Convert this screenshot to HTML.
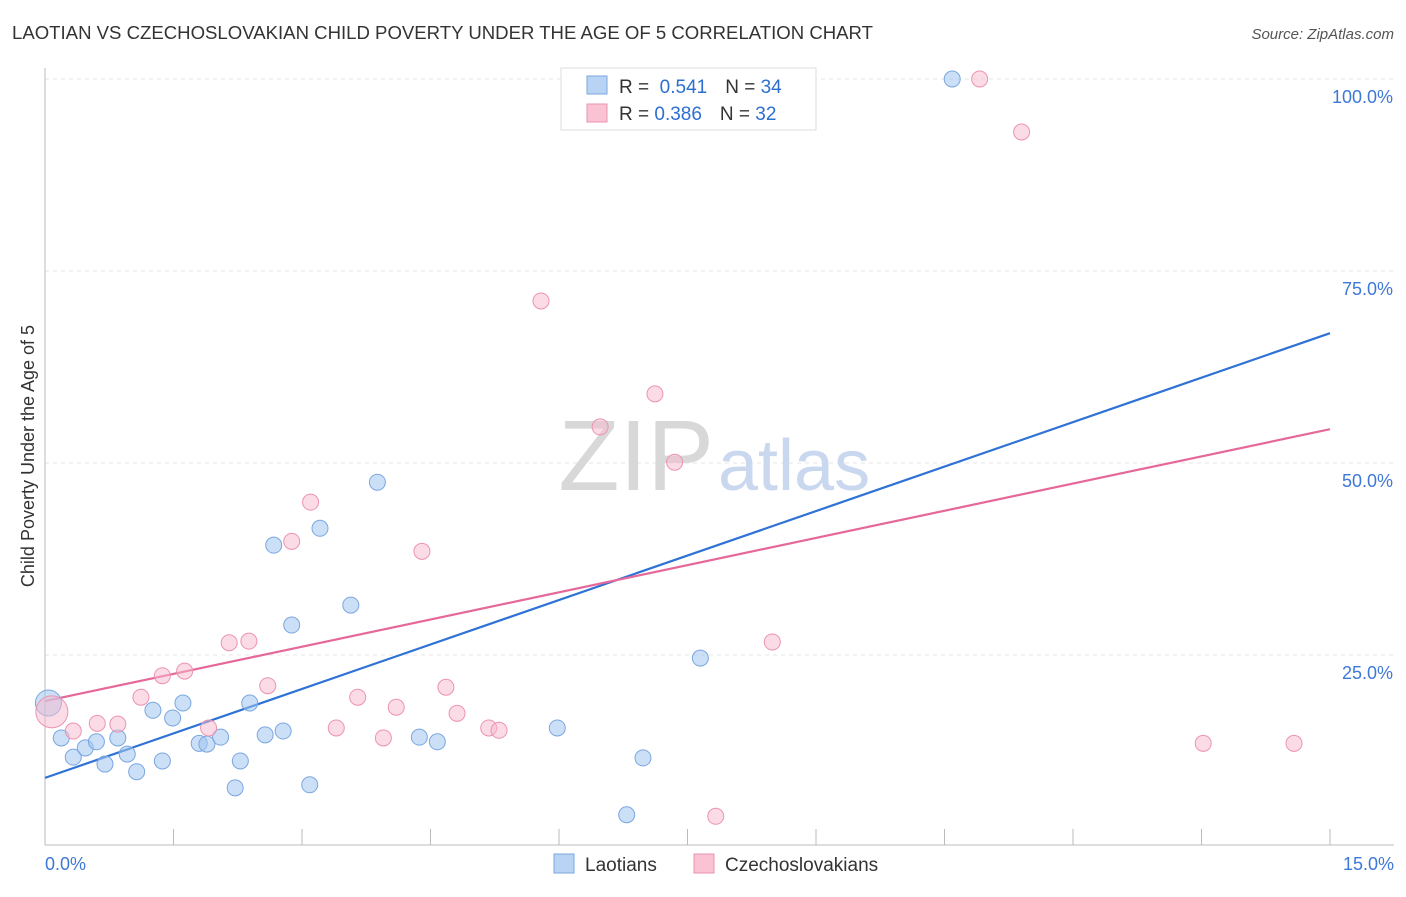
<!DOCTYPE html>
<html><head><meta charset="utf-8"><style>
body{margin:0;background:#fff;font-family:"Liberation Sans",sans-serif;}
svg text{font-family:"Liberation Sans",sans-serif;}
</style></head><body>
<svg id="chart" width="1406" height="892" xmlns="http://www.w3.org/2000/svg">
<text x="12" y="39" font-size="18" fill="#333" textLength="861" lengthAdjust="spacingAndGlyphs">LAOTIAN VS CZECHOSLOVAKIAN CHILD POVERTY UNDER THE AGE OF 5 CORRELATION CHART</text>
<text x="1394" y="39" font-size="15" fill="#555" font-style="italic" text-anchor="end">Source: ZipAtlas.com</text>
<g id="grid"></g>
<g id="axes"></g>
<text x="714" y="490" font-size="100" fill="#d8d8d8" text-anchor="end" font-family="Liberation Serif">ZIP</text>
<text x="718" y="490" font-size="72" fill="#c9d8ee">atlas</text>
<g id="lines"></g>
<g id="points"></g>
<text transform="translate(34,456) rotate(-90)" font-size="18" fill="#333" text-anchor="middle">Child Poverty Under the Age of 5</text>
<g>
<rect x="561" y="68" width="255" height="62" fill="#fff" stroke="#ddd"/>
<rect x="587" y="76" width="20" height="18" fill="#b9d3f5" stroke="#7aa7e0"/>
<rect x="587" y="104" width="20" height="18" fill="#f9c3d3" stroke="#ec93b0"/>
<text x="619" y="93" font-size="19" fill="#333">R = <tspan fill="#2d6fd1">&#160;0.541</tspan><tspan dx="18">N = </tspan><tspan fill="#2d6fd1">34</tspan></text>
<text x="619" y="120" font-size="19" fill="#333">R = <tspan fill="#2d6fd1">0.386</tspan><tspan dx="18">N = </tspan><tspan fill="#2d6fd1">32</tspan></text>
</g>
<g>
<rect x="554" y="854" width="20" height="19" fill="#b9d3f5" stroke="#7aa7e0"/>
<text x="585" y="871" font-size="19" fill="#333">Laotians</text>
<rect x="694" y="854" width="20" height="19" fill="#f9c3d3" stroke="#ec93b0"/>
<text x="725" y="871" font-size="19" fill="#333">Czechoslovakians</text>
</g>
</svg>
<script>
const blueX=[0.04,0.19,0.33,0.47,0.60,0.70,0.85,0.96,1.07,1.26,1.37,1.49,1.61,1.80,1.89,2.05,2.22,2.28,2.39,2.57,2.67,2.78,2.88,3.09,3.21,3.57,3.88,4.37,4.58,5.98,6.79,6.98,7.65,10.59];
const blueY=[18.75,14.2,11.7,12.9,13.7,10.8,14.2,12.1,9.8,17.8,11.2,16.8,18.75,13.5,13.4,14.3,7.7,11.2,18.75,14.6,39.3,15.1,28.9,8.1,41.5,31.5,47.5,14.3,13.7,15.5,4.2,11.6,24.6,100];
const pinkX=[0.08,0.33,0.61,0.85,1.12,1.37,1.63,1.91,2.15,2.38,2.60,2.88,3.10,3.40,3.65,3.95,4.10,4.40,4.68,4.81,5.18,5.30,5.79,6.48,7.12,7.35,7.83,8.49,10.91,11.40,13.52,14.58];
const pinkY=[17.6,15.1,16.1,16.0,19.5,22.3,22.9,15.5,26.6,26.8,21.0,39.8,44.9,15.5,19.5,14.2,18.2,38.5,20.8,17.4,15.5,15.2,71.1,54.7,59.0,50.1,4.0,26.7,100,93.1,13.5,13.5];
const blueTrend=[9.0,66.9];
const pinkTrend=[19.0,54.4];
const yTicks=[25,50,75,100];
const xTicks=[0,1.5,3,4.5,6,7.5,9,10.5,12,13.5,15];
const NS="http://www.w3.org/2000/svg";
const sx=v=>45+v*(1285/15);
const sy=v=>847-v*7.68;
function mk(tag,attrs,parent){const e=document.createElementNS(NS,tag);for(const k in attrs)e.setAttribute(k,attrs[k]);document.getElementById(parent).appendChild(e);return e;}
yTicks.forEach(t=>{
 const l=mk('line',{x1:45,x2:1394,y1:sy(t),y2:sy(t),stroke:'#e4e4e4','stroke-dasharray':'4,4'},'grid');
 
 
 const tx=mk('text',{x:1393,y:sy(t)+24,'font-size':18,fill:'#3d78d8','text-anchor':'end'},'grid');
 tx.textContent=t.toFixed(1)+'%';
 
 
});
mk('line',{x1:45,x2:45,y1:68,y2:845,stroke:'#bbb'},'axes');
mk('line',{x1:45,x2:1394,y1:845,y2:845,stroke:'#bbb'},'axes');
xTicks.forEach(t=>{
 const l=mk('line',{x1:sx(t),x2:sx(t),y1:829,y2:845,stroke:'#bbb'},'axes');
 
 
});
[[0,'start'],[15,'end']].forEach(([t,a])=>{
 const tx=mk('text',{x:t===0?45:1394,y:870,'font-size':18,fill:'#3d78d8','text-anchor':a},'axes');
 tx.textContent=t.toFixed(1)+'%';
 
 
});
const bl=mk('line',{x1:sx(0),y1:sy(blueTrend[0]),x2:sx(15),y2:sy(blueTrend[1]),stroke:'#2f72d6','stroke-width':2.2},'lines');


const pl=mk('line',{x1:sx(0),y1:sy(pinkTrend[0]),x2:sx(15),y2:sy(pinkTrend[1]),stroke:'#e6689a','stroke-width':2.2},'lines');


blueX.forEach((x,i)=>{
 const c=mk('circle',{cx:sx(x),cy:sy(blueY[i]),r:i===0?13:8,fill:'rgba(160,196,240,0.55)',stroke:'#7aa7e0','stroke-width':1},'points');
 
 
});
pinkX.forEach((x,i)=>{
 const c=mk('circle',{cx:sx(x),cy:sy(pinkY[i]),r:i===0?16:8,fill:'rgba(248,185,205,0.5)',stroke:'#ec93b0','stroke-width':1},'points');
 
 
});
</script>
</body></html>
